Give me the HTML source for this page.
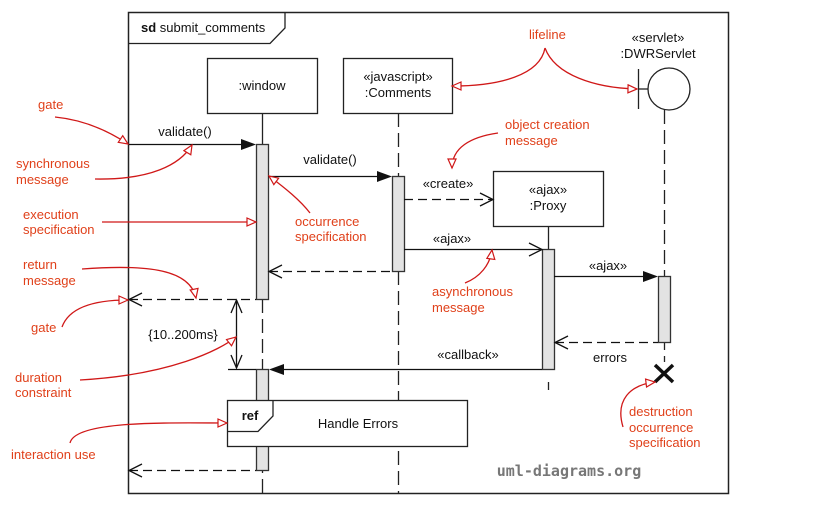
<!DOCTYPE html>
<html><head><meta charset="utf-8"><style>
html,body{margin:0;padding:0;background:#fff}
svg{display:block}
text{font-family:"Liberation Sans",sans-serif;font-size:13px;fill:#111}
.r{fill:#e0401a}
</style></head><body>
<svg width="835" height="506" viewBox="0 0 835 506" xmlns="http://www.w3.org/2000/svg">
<defs>
<marker id="ra" markerWidth="12" markerHeight="12" refX="10" refY="5" orient="auto" markerUnits="userSpaceOnUse">
<path d="M1,1 L10,5 L1,9 Z" fill="#fff" stroke="#d01818" stroke-width="1.2"/>
</marker>
</defs>
<!-- frame -->
<rect x="128.5" y="12.5" width="600" height="481" fill="none" stroke="#222" stroke-width="1.5"/>
<path d="M128.5,43.5 H270 L285,28 V12.5" fill="none" stroke="#222" stroke-width="1.3"/>
<text x="141" y="32"><tspan font-weight="bold">sd</tspan> submit_comments</text>

<!-- lifelines -->
<g stroke="#222" stroke-width="1.3" fill="none">
<line x1="262.5" y1="113" x2="262.5" y2="144"/>
<line x1="262.5" y1="299" x2="262.5" y2="493" stroke-dasharray="14,6"/>
<line x1="398.5" y1="113" x2="398.5" y2="176" stroke-dasharray="14,6"/>
<line x1="398.5" y1="271" x2="398.5" y2="493" stroke-dasharray="14,6"/>
<line x1="548.5" y1="226" x2="548.5" y2="249"/>
<line x1="548.5" y1="382" x2="548.5" y2="390"/>
<line x1="664.5" y1="110" x2="664.5" y2="276" stroke-dasharray="14,6"/>
<line x1="664.5" y1="342" x2="664.5" y2="362" stroke-dasharray="8,6"/>
</g>
<!-- heads -->
<g stroke="#222" stroke-width="1.3" fill="#fff">
<rect x="207.5" y="58.5" width="110" height="55"/>
<rect x="343.5" y="58.5" width="109" height="55"/>
<rect x="493.5" y="171.5" width="110" height="55"/>
<circle cx="669" cy="89" r="21"/>
<line x1="638.5" y1="69" x2="638.5" y2="109"/>
<line x1="638.5" y1="89" x2="648" y2="89"/>
</g>
<text x="262" y="90" text-anchor="middle">:window</text>
<text x="398" y="81" text-anchor="middle">«javascript»</text>
<text x="398" y="97" text-anchor="middle">:Comments</text>
<text x="548" y="194" text-anchor="middle">«ajax»</text>
<text x="548" y="210" text-anchor="middle">:Proxy</text>
<text x="658" y="42" text-anchor="middle">«servlet»</text>
<text x="658" y="58" text-anchor="middle">:DWRServlet</text>

<!-- activations -->
<g stroke="#333" stroke-width="1.3" fill="#e3e3e3">
<rect x="256.5" y="144.5" width="12" height="155"/>
<rect x="392.5" y="176.5" width="12" height="95"/>
<rect x="542.5" y="249.5" width="12" height="120"/>
<rect x="658.5" y="276.5" width="12" height="66"/>
<rect x="256.5" y="369.5" width="12" height="101"/>
</g>

<!-- messages -->
<g stroke="#111" stroke-width="1.3" fill="none">
<line x1="128" y1="144.5" x2="242" y2="144.5"/>
<line x1="268" y1="176.5" x2="378" y2="176.5"/>
<line x1="404" y1="199.5" x2="493" y2="199.5" stroke-dasharray="9,5"/>
<path d="M480,193 L493,199.5 L480,206"/>
<line x1="404" y1="249.5" x2="542" y2="249.5"/>
<path d="M529,243 L542,249.5 L529,256"/>
<line x1="269" y1="271.5" x2="392" y2="271.5" stroke-dasharray="9,5"/>
<path d="M282,265 L269,271.5 L282,278"/>
<line x1="129" y1="299.5" x2="256" y2="299.5" stroke-dasharray="9,5"/>
<path d="M142,293 L129,299.5 L142,306"/>
<line x1="554" y1="276.5" x2="644" y2="276.5"/>
<line x1="555" y1="342.5" x2="658" y2="342.5" stroke-dasharray="9,5"/>
<path d="M568,336 L555,342.5 L568,349"/>
<line x1="282" y1="369.5" x2="542" y2="369.5"/>
<line x1="228" y1="369.5" x2="256" y2="369.5"/>
<line x1="236.5" y1="300" x2="236.5" y2="368"/>
<path d="M231,313 L236.5,300 L242,313 M231,355 L236.5,368 L242,355"/>
<line x1="129" y1="470.5" x2="256" y2="470.5" stroke-dasharray="9,5"/>
<path d="M142,464 L129,470.5 L142,477"/>
<path d="M655,365 L673,382 M673,365 L655,382" stroke-width="3.5"/>
</g>
<g fill="#111">
<path d="M256,144.5 L241,139 L241,150 Z"/>
<path d="M392,176.5 L377,171 L377,182 Z"/>
<path d="M658,276.5 L643,271 L643,282 Z"/>
<path d="M269,369.5 L284,364 L284,375 Z"/>
</g>
<text x="185" y="136" text-anchor="middle">validate()</text>
<text x="330" y="164" text-anchor="middle">validate()</text>
<text x="448" y="188" text-anchor="middle">«create»</text>
<text x="452" y="243" text-anchor="middle">«ajax»</text>
<text x="608" y="270" text-anchor="middle">«ajax»</text>
<text x="610" y="362" text-anchor="middle">errors</text>
<text x="468" y="359" text-anchor="middle">«callback»</text>
<text x="183" y="339" text-anchor="middle">{10..200ms}</text>

<!-- ref -->
<rect x="227.5" y="400.5" width="240" height="46" fill="#fff" stroke="#222" stroke-width="1.3"/>
<path d="M227.5,431.5 H258 L273,416 V400.5" fill="none" stroke="#222" stroke-width="1.3"/>
<text x="250" y="420" text-anchor="middle" font-weight="bold">ref</text>
<text x="358" y="428" text-anchor="middle">Handle Errors</text>

<text x="569" y="476" text-anchor="middle" style="font-family:'DejaVu Sans Mono',monospace;font-size:15px;font-weight:bold;fill:#777">uml-diagrams.org</text>

<!-- annotations -->
<g stroke="#d01818" stroke-width="1.3" fill="none" marker-end="url(#ra)">
<path d="M55,117 C85,120 110,132 128,144"/>
<path d="M95,179 C150,180 180,165 192,145"/>
<path d="M102,222 L256,222"/>
<path d="M82,269 C150,264 190,270 196,298"/>
<path d="M62,327 C70,305 100,300 128,300"/>
<path d="M80,380 C170,375 220,350 236,337"/>
<path d="M70,443 C75,420 170,423 227,423"/>
<path d="M310,213 C300,200 285,188 269,176"/>
<path d="M545,48 C540,75 500,86 452,86"/>
<path d="M545,48 C555,75 595,88 637,89"/>
<path d="M498,133 C470,137 452,148 452,168"/>
<path d="M465,283 C480,277 490,265 492,250"/>
<path d="M623,427 C615,400 630,385 655,382"/>
</g>
<g class="r">
<text class="r" x="38" y="109">gate</text>
<text class="r" x="16" y="168">synchronous</text>
<text class="r" x="16" y="184">message</text>
<text class="r" x="23" y="219">execution</text>
<text class="r" x="23" y="234">specification</text>
<text class="r" x="23" y="269">return</text>
<text class="r" x="23" y="285">message</text>
<text class="r" x="31" y="332">gate</text>
<text class="r" x="15" y="382">duration</text>
<text class="r" x="15" y="397">constraint</text>
<text class="r" x="11" y="459">interaction use</text>
<text class="r" x="295" y="226">occurrence</text>
<text class="r" x="295" y="241">specification</text>
<text class="r" x="529" y="39">lifeline</text>
<text class="r" x="505" y="129">object creation</text>
<text class="r" x="505" y="145">message</text>
<text class="r" x="432" y="296">asynchronous</text>
<text class="r" x="432" y="312">message</text>
<text class="r" x="629" y="416">destruction</text>
<text class="r" x="629" y="432">occurrence</text>
<text class="r" x="629" y="447">specification</text>
</g>
</svg>
</body></html>
